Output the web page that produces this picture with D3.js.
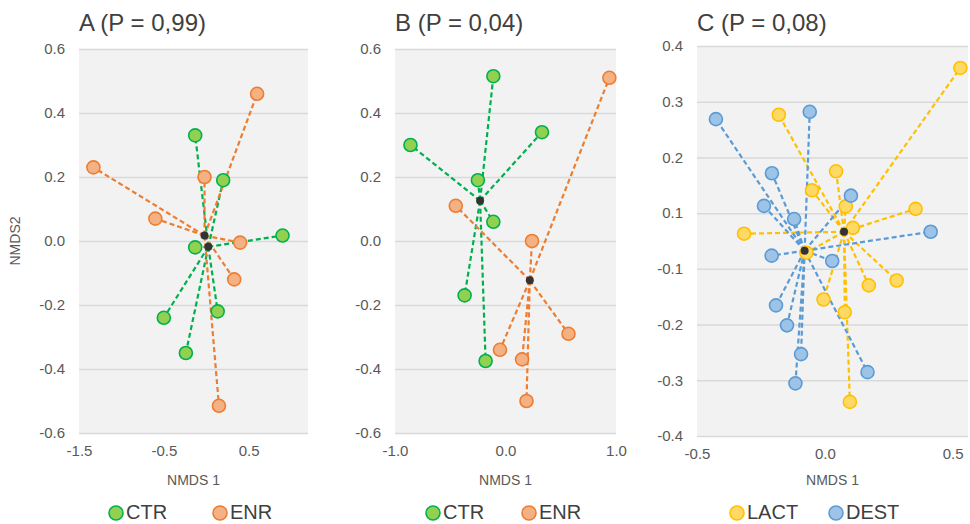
<!DOCTYPE html>
<html>
<head>
<meta charset="utf-8">
<script src="https://cdn.jsdelivr.net/npm/d3@7"></script>
<style>
  html, body { margin: 0; padding: 0; background: #ffffff; }
  svg { display: block; font-family: "Liberation Sans", Arial, sans-serif; }
</style>
</head>
<body>
<svg id="chart" width="970" height="524"></svg>
<script>
// ---------- DATA (NMDS coordinates) ----------
// Panel A (P = 0,99)
const ctrA = [[-0.13, 0.33], [0.20, 0.19], [0.90, 0.017], [-0.13, -0.02], [-0.50, -0.24], [0.135, -0.22], [-0.24, -0.35]];
const enrA = [[0.60, 0.46], [-1.33, 0.23], [-0.02, 0.20], [-0.60, 0.07], [0.40, -0.005], [0.33, -0.12], [0.15, -0.515]];
const ctrCentroidA = [0.025, -0.018];
const enrCentroidA = [-0.02, 0.017];

// Panel B (P = 0,04)
const ctrB = [[-0.11, 0.515], [0.33, 0.34], [-0.86, 0.30], [-0.25, 0.19], [-0.11, 0.06], [-0.37, -0.17], [-0.18, -0.375]];
const enrB = [[0.94, 0.51], [-0.45, 0.11], [0.24, 0.0], [0.57, -0.29], [-0.05, -0.34], [0.15, -0.37], [0.19, -0.50]];
const ctrCentroidB = [-0.23, 0.126];
const enrCentroidB = [0.22, -0.123];

// Panel C (P = 0,08)
const lactC = [[0.53, 0.355], [-0.18, 0.259], [0.044, 0.143], [-0.05, 0.104], [0.082, 0.071], [0.355, 0.066],
               [0.11, 0.027], [-0.316, 0.015], [-0.072, -0.024], [0.172, -0.091], [0.281, -0.081],
               [-0.005, -0.12], [0.078, -0.146], [0.098, -0.33]];
const destC = [[-0.426, 0.25], [-0.059, 0.265], [-0.207, 0.139], [-0.238, 0.072], [-0.12, 0.045], [0.102, 0.093],
               [0.414, 0.019], [-0.208, -0.03], [0.029, -0.041], [-0.191, -0.132], [-0.148, -0.173],
               [-0.093, -0.232], [-0.115, -0.292], [0.167, -0.269]];
const lactCentroidC = [0.075, 0.019];
const destCentroidC = [-0.079, -0.02];

// Tick labels
const xTicksA = [-1.5, -0.5, 0.5];
const xTicksB = [-1.0, 0.0, 1.0];
const xTicksC = [-0.5, 0.0, 0.5];
const yTicksAB = [0.6, 0.4, 0.2, 0.0, -0.2, -0.4, -0.6];
const yTickLabelsC = ["0.4", "0.3", "0.2", "0.1", "-0.1", "-0.2", "-0.3", "-0.4"];

const titles = ["A (P = 0,99)", "B (P = 0,04)", "C (P = 0,08)"];
const groupNamesAB = ["CTR", "ENR"];
const groupNamesC = ["LACT", "DEST"];
const xTitle = "NMDS 1";
const yTitle = "NMDS2";

// ---------- STYLES ----------
const styles = {
  CTR:  { fill: "#92d050", stroke: "#00b050", line: "#00b050" },
  ENR:  { fill: "#f4b183", stroke: "#ed7d31", line: "#ed7d31" },
  LACT: { fill: "#ffd966", stroke: "#ffc000", line: "#ffc000" },
  DEST: { fill: "#9dc3e6", stroke: "#5b9bd5", line: "#5b9bd5" }
};

const svg = d3.select("#chart");

const yTickPosC = d3.range(yTickLabelsC.length).map(i => 0.4 - i * 0.8 / (yTickLabelsC.length - 1));

const panels = [
  { title: titles[0], xDomain: [-1.5, 1.2], xRange: [79, 308], yDomain: [-0.6, 0.6], yRange: [433, 49],
    xTicks: xTicksA, yTicks: yTicksAB, yFmt: d => d.toFixed(1), showYTitle: true,
    groups: [
      { name: groupNamesAB[0], pts: ctrA, c: ctrCentroidA },
      { name: groupNamesAB[1], pts: enrA, c: enrCentroidA }
    ], legendX: [116, 220] },
  { title: titles[1], xDomain: [-1, 1], xRange: [395, 616], yDomain: [-0.6, 0.6], yRange: [433, 49],
    xTicks: xTicksB, yTicks: yTicksAB, yFmt: d => d.toFixed(1), showYTitle: false,
    groups: [
      { name: groupNamesAB[0], pts: ctrB, c: ctrCentroidB },
      { name: groupNamesAB[1], pts: enrB, c: enrCentroidB }
    ], legendX: [433, 529] },
  { title: titles[2], xDomain: [-0.5, 0.56], xRange: [697, 968], yDomain: [-0.4, 0.4], yRange: [436, 46],
    xTicks: xTicksC, yTicks: yTickPosC, yFmt: (d, i) => yTickLabelsC[i], showYTitle: false,
    groups: [
      { name: groupNamesC[0], pts: lactC, c: lactCentroidC },
      { name: groupNamesC[1], pts: destC, c: destCentroidC }
    ], legendX: [737, 836] }
];

panels.forEach(p => {
  const x = d3.scaleLinear().domain(p.xDomain).range(p.xRange);
  const y = d3.scaleLinear().domain(p.yDomain).range(p.yRange);
  const g = svg.append("g");
  const [x0, x1] = p.xRange;
  const [yb, yt] = p.yRange;

  // plot background
  g.append("rect").attr("x", x0).attr("y", yt).attr("width", x1 - x0).attr("height", yb - yt)
    .attr("fill", "#f2f2f2");

  // y axis with gridlines
  const yAxis = d3.axisLeft(y).tickValues(p.yTicks).tickFormat(p.yFmt).tickSize(-(x1 - x0)).tickPadding(14);
  const ya = g.append("g").attr("transform", `translate(${x0},0)`).call(yAxis);
  ya.select(".domain").remove();
  ya.selectAll(".tick line").attr("stroke", "#d9d9d9").attr("stroke-width", 1.5);
  ya.selectAll(".tick text").attr("fill", "#595959").style("font-size", "15px")
    .style("font-family", "'Liberation Sans', Arial, sans-serif");

  // x axis (labels only)
  const xAxis = d3.axisBottom(x).tickValues(p.xTicks).tickFormat(d => d.toFixed(1)).tickSize(0).tickPadding(12);
  const xa = g.append("g").attr("transform", `translate(0,${yb})`).call(xAxis);
  xa.select(".domain").remove();
  xa.selectAll(".tick text").attr("fill", "#595959").style("font-size", "15px")
    .style("font-family", "'Liberation Sans', Arial, sans-serif");

  // title
  g.append("text").attr("x", x0).attr("y", 31).text(p.title)
    .attr("fill", "#404040").style("font-size", "24px");

  // x title
  g.append("text").attr("x", (x0 + x1) / 2).attr("y", 485).attr("text-anchor", "middle")
    .text(xTitle).attr("fill", "#595959").style("font-size", "14px");

  if (p.showYTitle) {
    g.append("text").attr("transform", `translate(20,${(yt + yb) / 2}) rotate(-90)`)
      .attr("text-anchor", "middle").text(yTitle).attr("fill", "#595959").style("font-size", "14px");
  }

  // spider lines
  p.groups.forEach(gr => {
    const st = styles[gr.name];
    g.append("g").selectAll("line").data(gr.pts).join("line")
      .attr("x1", x(gr.c[0])).attr("y1", y(gr.c[1]))
      .attr("x2", d => x(d[0])).attr("y2", d => y(d[1]))
      .attr("stroke", st.line).attr("stroke-width", 2.2).attr("stroke-dasharray", "5,3");
  });
  // points
  p.groups.forEach(gr => {
    const st = styles[gr.name];
    g.append("g").selectAll("circle").data(gr.pts).join("circle")
      .attr("cx", d => x(d[0])).attr("cy", d => y(d[1])).attr("r", 6.5)
      .attr("fill", st.fill).attr("stroke", st.stroke).attr("stroke-width", 1.6);
  });
  // centroids
  g.append("g").selectAll("circle").data(p.groups.map(gr => gr.c)).join("circle")
    .attr("cx", d => x(d[0])).attr("cy", d => y(d[1])).attr("r", 4).attr("fill", "#333333");

  // legend
  p.groups.forEach((gr, i) => {
    const st = styles[gr.name];
    const lx = p.legendX[i];
    g.append("circle").attr("cx", lx).attr("cy", 513).attr("r", 7)
      .attr("fill", st.fill).attr("stroke", st.stroke).attr("stroke-width", 1.6);
    g.append("text").attr("x", lx + 10).attr("y", 519).text(gr.name)
      .attr("fill", "#404040").style("font-size", "20px");
  });
});
</script>
</body>
</html>
